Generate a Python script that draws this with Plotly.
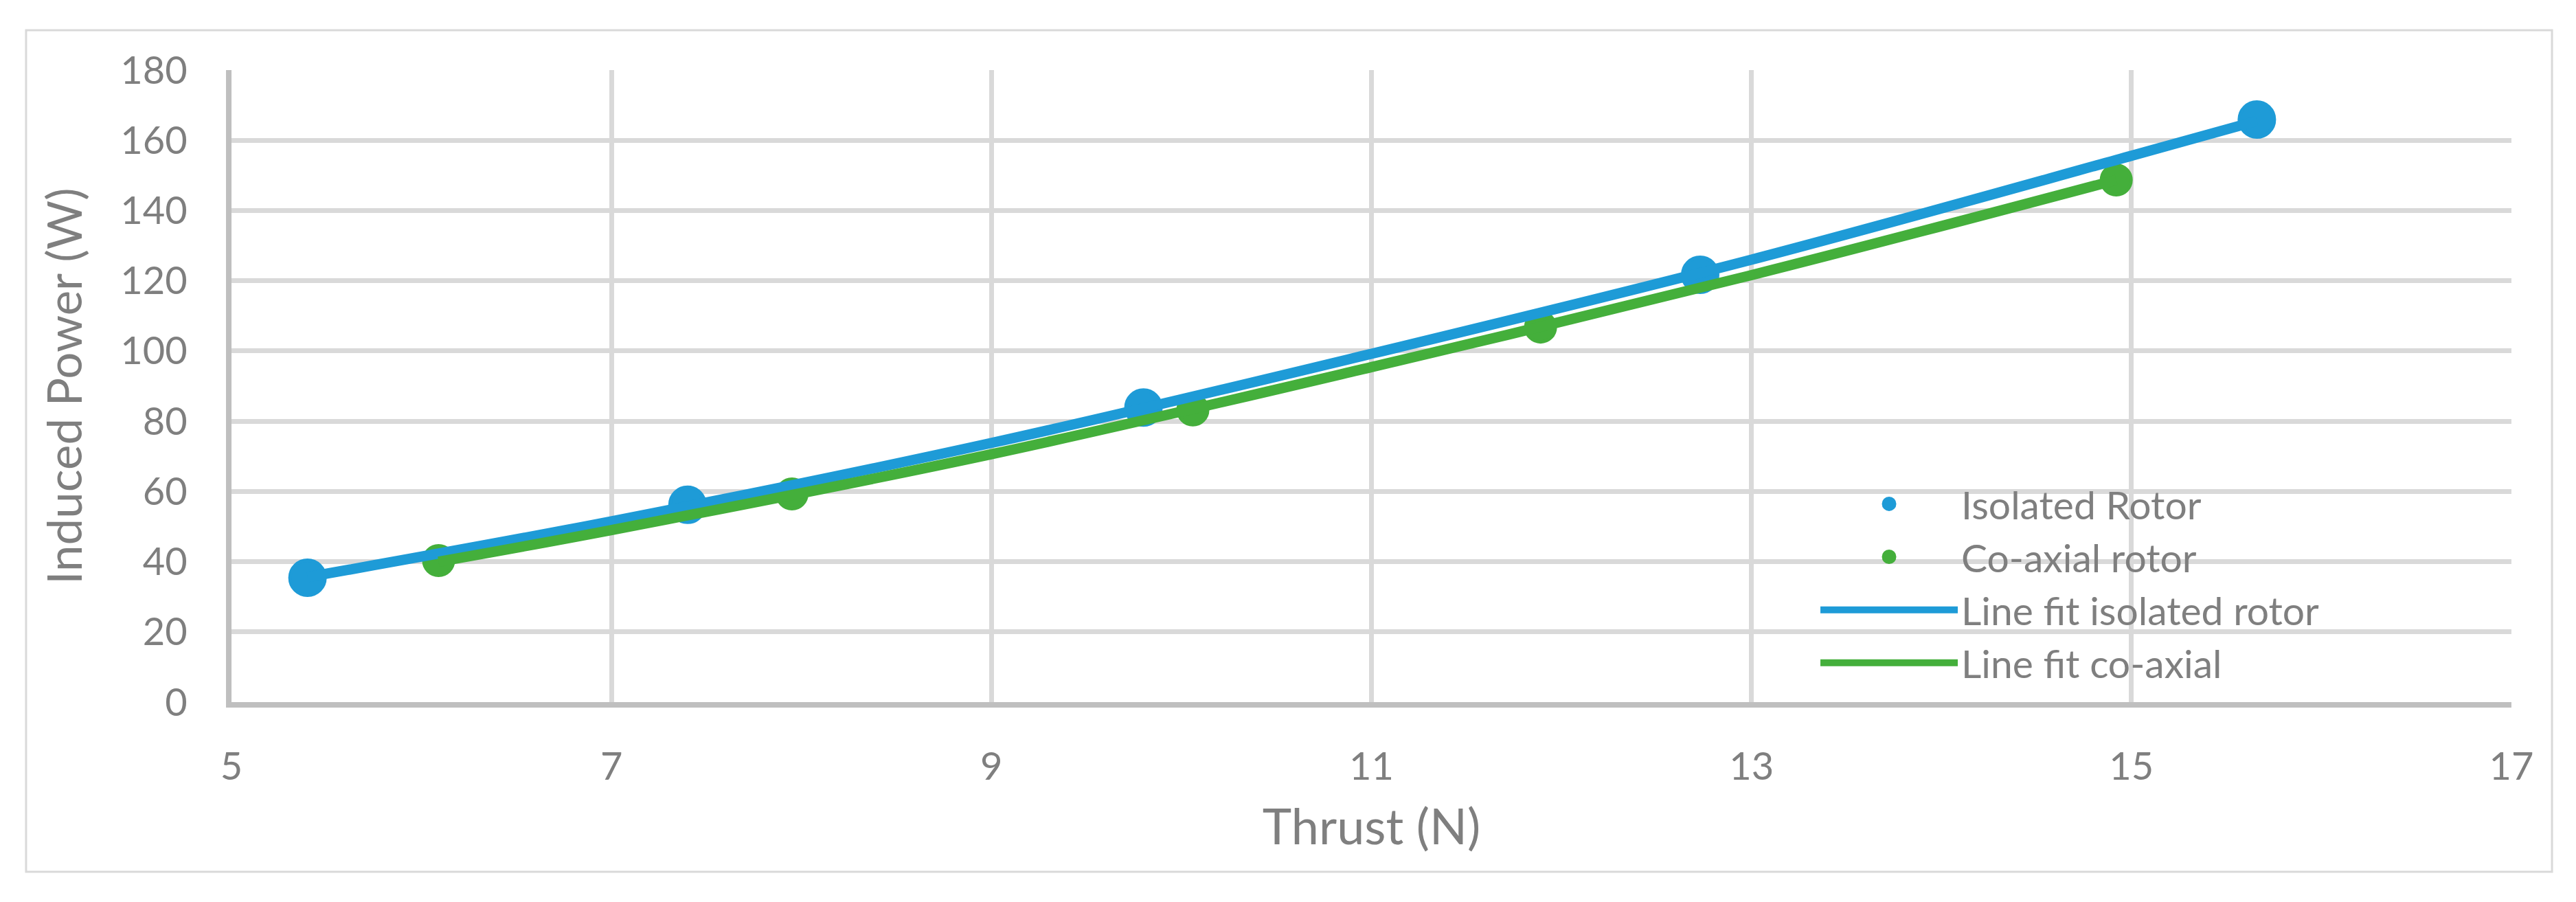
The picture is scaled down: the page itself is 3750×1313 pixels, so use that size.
import plotly.graph_objects as go

thrust_isolated = [5.40, 7.40, 9.80, 12.73, 15.66]
power_isolated = [35.4, 56.2, 83.9, 121.7, 165.9]
thrust_coaxial = [6.09, 7.95, 10.06, 11.89, 14.92]
power_coaxial = [40.3, 59.3, 83.2, 106.8, 148.7]

# trend lines
fit_isolated_x = [5.40, 7, 9, 11, 13, 15, 15.66]
fit_isolated_y = [35.6, 51.5, 73.8, 99.2, 126.0, 155.6, 165.5]
fit_coaxial_x = [6.09, 7, 9, 11, 13, 14.92]
fit_coaxial_y = [40.0, 49.0, 70.6, 95.4, 121.6, 148.7]

series_names = ["Isolated Rotor", "Co-axial rotor", "Line fit isolated rotor", "Line fit co-axial"]

x_ticks = [5, 7, 9, 11, 13, 15, 17]
y_ticks = [0, 20, 40, 60, 80, 100, 120, 140, 160, 180]

BLUE = "#1E9BD7"
GREEN = "#44AF3B"
TEXT = "#7F7F7F"
GRID = "#D9D9D9"
FONT = "Lato"

fig = go.Figure()
# marker outline in the same colour so the legend symbol comes out a bit bigger
fig.add_trace(go.Scatter(x=thrust_isolated, y=power_isolated, mode="markers", name=series_names[0],
                         marker=dict(color=BLUE, size=51, line=dict(color=BLUE, width=5))))
fig.add_trace(go.Scatter(x=thrust_coaxial, y=power_coaxial, mode="markers", name=series_names[1],
                         marker=dict(color=GREEN, size=43, line=dict(color=GREEN, width=5))))
fig.add_trace(go.Scatter(x=fit_isolated_x, y=fit_isolated_y, mode="lines", name=series_names[2],
                         line=dict(color=BLUE, width=15, shape="spline")))
fig.add_trace(go.Scatter(x=fit_coaxial_x, y=fit_coaxial_y, mode="lines", name=series_names[3],
                         line=dict(color=GREEN, width=15, shape="spline")))

# page body has an 8px margin, so the figure is made 16px smaller than the window
fig.update_layout(
    width=3734, height=1297,
    margin=dict(l=329, r=86, t=94, b=283),
    paper_bgcolor="white", plot_bgcolor="white",
    font=dict(family=FONT, color=TEXT, size=56),
    showlegend=True,
    legend=dict(x=0.6954, y=0.361, xanchor="left", yanchor="top",
                bgcolor="rgba(0,0,0,0)", font=dict(size=57, color=TEXT),
                itemwidth=200, tracegroupgap=0, itemsizing="trace"),
    xaxis=dict(range=[5, 17], tickvals=x_ticks, showgrid=True, gridcolor=GRID, gridwidth=7,
               showline=True, linecolor="#BFBFBF", linewidth=8, zeroline=False, ticks="",
               ticklabelstandoff=38, tickfont=dict(size=56, color=TEXT),
               title=dict(text="Thrust (N)", font=dict(size=72, color=TEXT), standoff=35)),
    yaxis=dict(range=[0, 180], tickvals=y_ticks, showgrid=True, gridcolor=GRID, gridwidth=7,
               showline=True, linecolor="#BFBFBF", linewidth=8, zeroline=False, ticks="",
               ticklabelstandoff=45, tickfont=dict(size=56, color=TEXT),
               title=dict(text="Induced Power (W)", font=dict(size=69, color=TEXT), standoff=36)),
    shapes=[
        # outer chart border
        dict(type="rect", xref="paper", yref="paper", x0=-0.0901, x1=1.0178, y0=-0.2685, y1=1.063,
             line=dict(color=GRID, width=3), fillcolor="rgba(0,0,0,0)", layer="below"),
        # white legend box hiding the gridlines behind it
        dict(type="rect", xref="paper", yref="paper", x0=0.6526, x1=0.9988, y0=0.013, y1=0.338,
             line=dict(width=0), fillcolor="white", layer="between"),
    ],
)

fig.write_html("out.html")
